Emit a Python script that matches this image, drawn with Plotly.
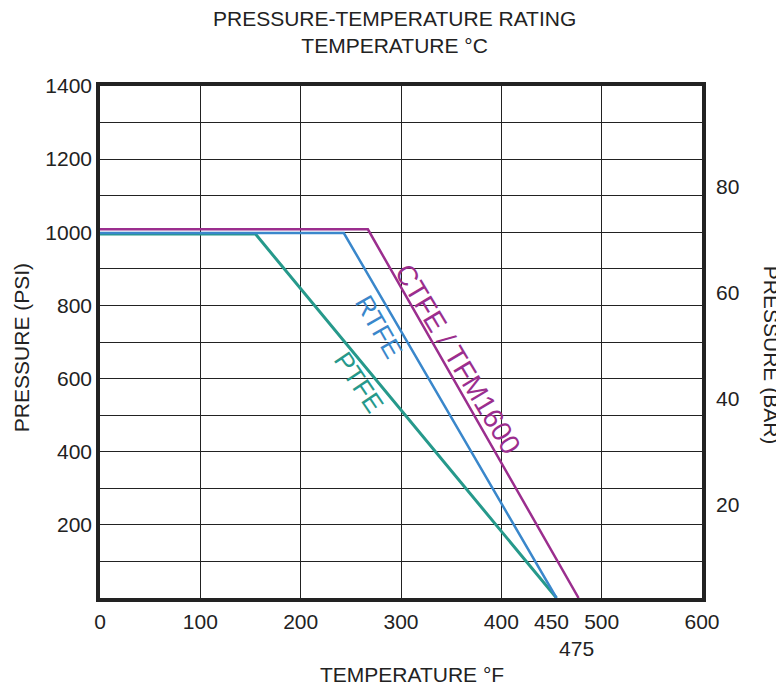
import plotly.graph_objects as go

# ---- data (temperature °F, pressure PSI) ----
ptfe_temp = [0, 155, 455]
ptfe_psi = [995, 995, 0]
rtfe_temp = [0, 243, 455]
rtfe_psi = [998, 998, 0]
ctfe_temp = [0, 267, 477]
ctfe_psi = [1008, 1008, 0]

series_names = ["PTFE", "RTFE", "CTFE / TFM1600"]
series_colors = ["#26998b", "#3a87cb", "#9b2e8e"]

x_tick_vals = [0, 100, 200, 300, 400, 450, 475, 500, 600]
x_tick_text = ["0", "100", "200", "300", "400", "450", "<br>475", "500", "600"]
y_tick_vals = [200, 400, 600, 800, 1000, 1200, 1400]
bar_tick_vals = [20, 40, 60, 80]
PSI_PER_BAR = 14.5

FONT = "Liberation Sans, Arial, sans-serif"
TXT = "#222222"
TICK = dict(size=21, family=FONT, color=TXT)

fig = go.Figure()
for t, p, name, col, w in [
    (ptfe_temp, ptfe_psi, series_names[0], series_colors[0], 3),
    (rtfe_temp, rtfe_psi, series_names[1], series_colors[1], 2.5),
    (ctfe_temp, ctfe_psi, series_names[2], series_colors[2], 2.5),
]:
    fig.add_trace(go.Scatter(x=t, y=p, mode="lines", name=name,
                             line=dict(color=col, width=w), showlegend=False))

# helper trace so the label axes (x2 / y2) render
fig.add_trace(go.Scatter(x=x_tick_vals[:len(bar_tick_vals)], y=bar_tick_vals,
                         xaxis="x2", yaxis="y2", mode="markers",
                         marker=dict(opacity=0), hoverinfo="skip", showlegend=False))

fig.update_layout(
    width=784, height=691,
    margin=dict(l=92, r=90, t=78, b=101, autoexpand=False),
    paper_bgcolor="white", plot_bgcolor="white",
    font=dict(family=FONT, color=TXT, size=18),
    xaxis=dict(range=[0, 600], dtick=100, tick0=0, showgrid=True, gridcolor="#222", gridwidth=1,
               showticklabels=False, ticks="", zeroline=False, automargin=False,
               showline=True, mirror=True, linecolor="#222", linewidth=3.5),
    yaxis=dict(range=[0, 1400], tickvals=y_tick_vals, showgrid=True, gridcolor="#222", gridwidth=1,
               minor=dict(dtick=100, tick0=0, showgrid=True, gridcolor="#222", gridwidth=1),
               ticks="", zeroline=False, ticklabelstandoff=0, automargin=False,
               tickfont=TICK,
               showline=True, mirror=True, linecolor="#222", linewidth=3.5),
    xaxis2=dict(range=[0, 600], overlaying="x", side="bottom", anchor="y2",
                tickvals=x_tick_vals, ticktext=x_tick_text, showgrid=False, zeroline=False,
                ticks="", tickangle=0, ticklabelstandoff=9, tickfont=TICK,
                showline=False, automargin=False),
    yaxis2=dict(range=[0, 1400 / PSI_PER_BAR], overlaying="y", side="right", anchor="x2",
                tickvals=bar_tick_vals, showgrid=False, zeroline=False, ticks="",
                ticklabelstandoff=13, ticklabelshift=13, automargin=False,
                tickfont=TICK, showline=False),
)

ann = [
    dict(text="PRESSURE-TEMPERATURE RATING<br>TEMPERATURE °C", xref="paper", yref="paper",
         x=0.49, y=1, yshift=81, xanchor="center", yanchor="top", showarrow=False,
         font=dict(size=21, family=FONT, color=TXT)),
    dict(text="TEMPERATURE °F", xref="paper", yref="paper", x=0.518, y=0, yshift=-76,
         xanchor="center", yanchor="middle", showarrow=False,
         font=dict(size=21, family=FONT, color=TXT)),
    dict(text="PRESSURE (PSI)", xref="paper", yref="paper", x=0, xshift=-79, y=0.488,
         xanchor="center", yanchor="middle", textangle=-90, showarrow=False,
         font=dict(size=21, family=FONT, color=TXT)),
    dict(text="PRESSURE (BAR)", xref="paper", yref="paper", x=1, xshift=69, y=0.475,
         xanchor="center", yanchor="middle", textangle=90, showarrow=False,
         font=dict(size=21, family=FONT, color=TXT)),
    dict(text=series_names[2], x=357, y=653, xref="x", yref="y", textangle=59, showarrow=False,
         font=dict(size=28, family=FONT, color=series_colors[2])),
    dict(text=series_names[1], x=278, y=741, xref="x", yref="y", textangle=60, showarrow=False,
         font=dict(size=26, family=FONT, color=series_colors[1])),
    dict(text=series_names[0], x=258, y=591, xref="x", yref="y", textangle=56, showarrow=False,
         font=dict(size=26, family=FONT, color=series_colors[0])),
]
fig.update_layout(annotations=ann)

fig.write_html("out.html")
